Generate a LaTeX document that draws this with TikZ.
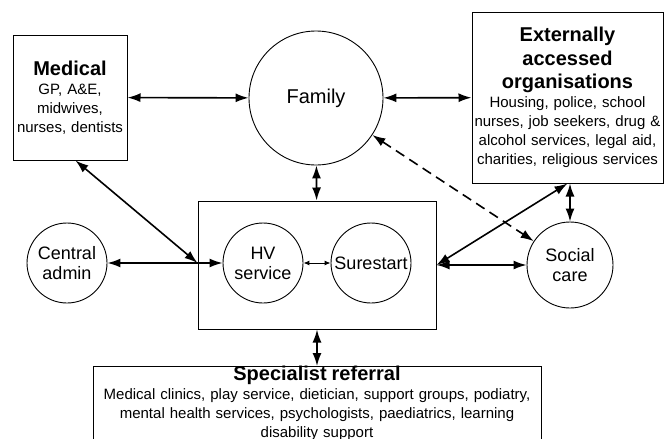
\documentclass[tikz,border=0pt]{standalone}
\usepackage{fontspec}
\setmainfont{Liberation Sans}
\usetikzlibrary{arrows.meta}
\setlength{\parindent}{0pt}

\tikzset{
  caja/.style={draw, line width=1pt, rectangle, align=center, inner sep=0pt,
    font=\fontsize{15}{19}\selectfont},
  circulo/.style={draw, circle, line width=0.9pt, align=center, inner sep=0pt,
    font=\fontsize{18}{20}\selectfont},
  flecha/.style={{Latex[length=13pt,width=9pt]}-{Latex[length=13pt,width=9pt]}, line width=1.6pt},
  flechita/.style={{Latex[length=6pt,width=5pt]}-{Latex[length=6pt,width=5pt]}, line width=1pt},
}
\newcommand{\cabecera}[1]{{\bfseries\fontsize{20}{23.5}\selectfont #1\par}}

\begin{document}
\begin{tikzpicture}[x=1pt, y=-1pt]

    % Marco de la figura
    \useasboundingbox[fill=white] (0,0) rectangle (664,439);

    % Cajas
    \node[caja, minimum width=114pt, minimum height=125pt, text width=110pt] (medical) at (70,97.5)
        {\cabecera{Medical}GP, A\&E,\\ midwives,\\ nurses, dentists};
    \node[caja, minimum width=191pt, minimum height=171pt, text width=187pt] (extern) at (567.5,97.5)
        {\cabecera{Externally\\ accessed\\ organisations}Housing, police, school\\ nurses, job seekers, drug \&\\ alcohol services, legal aid,\\ charities, religious services};
    \node[caja, minimum width=238pt, minimum height=128pt] (hvbox) at (317,265) {};
    \node[caja, anchor=north, minimum width=448pt, text width=444pt] (special) at (317,366)
        {\cabecera{Specialist referral}Medical clinics, play service, dietician, support groups, podiatry,\\ mental health services, psychologists, paediatrics, learning\\ disability support};

    % Circulos
    \node[circulo, minimum size=134pt, font=\fontsize{20}{22}\selectfont] (family) at (316,98) {Family};
    \node[circulo, minimum size=80pt] (admin) at (67,263) {Central\\ admin};
    \node[circulo, minimum size=80pt] (hv) at (263,263) {HV\\ service};
    \node[circulo, minimum size=80pt] (sure) at (371,263) {Surestart};
    \node[circulo, minimum size=86pt] (social) at (570,265) {Social\\ care};

    % Flechas
    \coordinate (entrada) at (hvbox.west |- hv.west);
    \draw[flecha] (medical) -- (family);
    \draw[flecha] (family) -- (extern);
    \draw[flecha] (family) -- (hvbox);
    \draw[flecha] (medical.-85) -- (entrada);
    \draw[flecha] (admin) -- (hv);
    \draw[flechita] (hv) -- (sure);
    \draw[flecha] (hvbox) -- (social);
    \draw[flecha] (hvbox.east) -- (extern.south);
    \draw[flecha] (social.north |- extern.south) -- (social.north);
    \draw[flecha, dash pattern=on 10pt off 6pt] (family) -- (social);
    \draw[flecha] (hvbox) -- (special);

\end{tikzpicture}
\end{document}
